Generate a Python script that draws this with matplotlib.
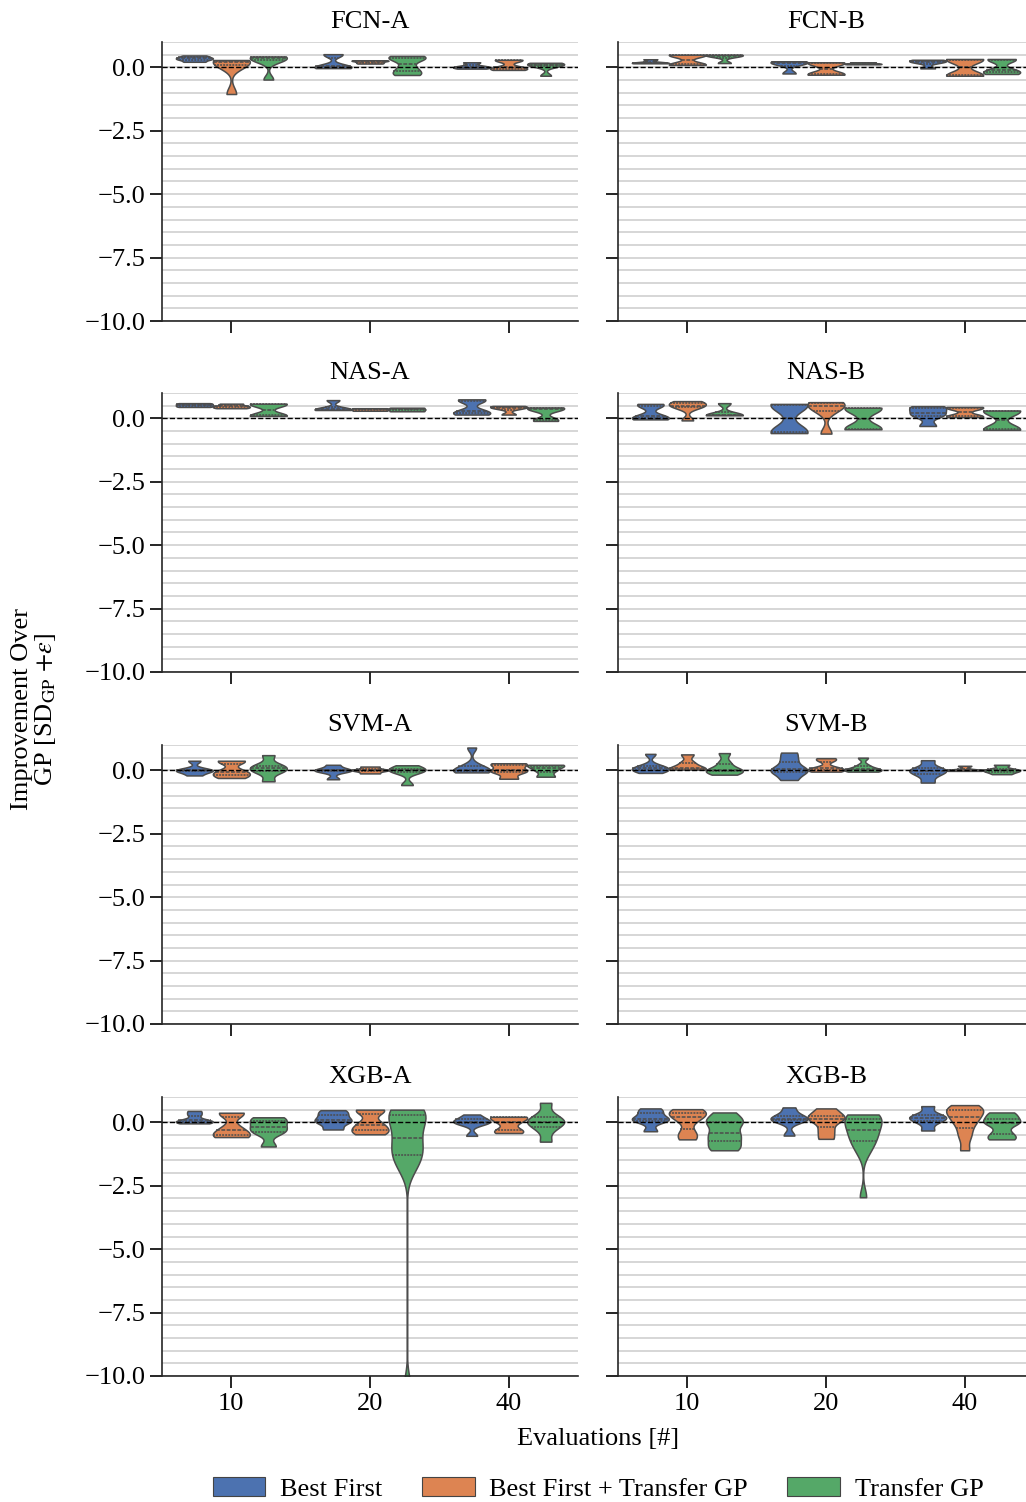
import matplotlib
matplotlib.use("Agg")
import matplotlib.pyplot as plt
import matplotlib.ticker as ticker
from matplotlib.patches import Patch
import numpy as np
import pandas as pd
import seaborn as sns

# ── raw data: per-seed improvement samples, lists ordered by evals (10, 20, 40) ──
EVALS   = ["10", "20", "40"]
METHODS = ["Best First", "Best First + Transfer GP", "Transfer GP"]
COLORS  = ["#4C72B0", "#DD8452", "#55A868"]
PANELS  = ["FCN-A", "FCN-B", "NAS-A", "NAS-B", "SVM-A", "SVM-B", "XGB-A", "XGB-B"]

FCN_A_BF  = [[0.22, 0.30, 0.35, 0.40, 0.47], [0.52, 0.50, 0.05, 0.00, -0.03, 0.02], [0.20, 0.05, 0.00, -0.05]]
FCN_A_BFT = [[0.29, 0.25, 0.20, 0.10, -1.05], [0.15, 0.20, 0.25, 0.28], [0.30, 0.28, 0.00, -0.05, -0.10]]
FCN_A_TGP = [[0.43, 0.40, 0.35, 0.30, -0.48], [0.45, 0.40, 0.30, 0.00, -0.20, -0.30], [0.18, 0.15, 0.10, 0.05, -0.33]]

FCN_B_BF  = [[0.32, 0.20, 0.17, 0.16], [0.24, 0.20, 0.15, -0.24], [0.30, 0.25, 0.20, -0.04]]
FCN_B_BFT = [[0.50, 0.48, 0.12, 0.10], [0.20, 0.15, -0.25, -0.29], [0.33, 0.30, -0.30, -0.33]]
FCN_B_TGP = [[0.50, 0.48, 0.45, 0.17], [0.20, 0.15, 0.12], [0.33, 0.30, -0.10, -0.20, -0.26]]

NAS_A_BF  = [[0.60, 0.55, 0.50, 0.45], [0.72, 0.38, 0.35, 0.33], [0.75, 0.70, 0.30, 0.20, 0.15]]
NAS_A_BFT = [[0.58, 0.50, 0.45, 0.40], [0.40, 0.35, 0.30], [0.49, 0.45, 0.40, 0.15]]
NAS_A_TGP = [[0.58, 0.55, 0.12, 0.10], [0.42, 0.35, 0.28], [0.43, 0.40, 0.35, -0.05, -0.10]]

NAS_B_BF  = [[0.57, 0.50, 0.10, 0.00, -0.04], [0.57, 0.50, -0.50, -0.58], [0.48, 0.40, 0.20, 0.10, -0.30]]
NAS_B_BFT = [[0.68, 0.60, 0.50, 0.45, -0.08], [0.64, 0.60, 0.50, 0.30, -0.60], [0.45, 0.40, 0.10, 0.05]]
NAS_B_TGP = [[0.60, 0.15, 0.13, 0.12], [0.42, 0.38, -0.40, -0.43], [0.31, 0.28, -0.42, -0.45]]

SVM_A_BF  = [[0.38, 0.02, 0.00, -0.02, -0.20], [0.22, 0.02, 0.00, -0.02, -0.35], [0.90, 0.20, 0.05, 0.00, -0.05, -0.08]]
SVM_A_BFT = [[0.38, 0.35, 0.00, -0.10, -0.20, -0.30], [0.15, 0.02, 0.00, -0.12], [0.28, 0.22, 0.00, -0.05, -0.33]]
SVM_A_TGP = [[0.60, 0.20, 0.15, 0.00, -0.05, -0.43], [0.20, 0.05, 0.00, -0.05, -0.58], [0.22, 0.18, 0.00, -0.25]]

SVM_B_BF  = [[0.65, 0.20, 0.10, 0.05, 0.00, -0.10], [0.70, 0.40, 0.10, 0.00, -0.10, -0.38], [0.40, 0.10, 0.00, -0.05, -0.20, -0.48]]
SVM_B_BFT = [[0.63, 0.30, 0.10, 0.05, 0.03], [0.48, 0.40, 0.10, 0.05, 0.00, -0.05], [0.18, 0.02, 0.00, -0.02]]
SVM_B_TGP = [[0.68, 0.30, 0.05, 0.00, -0.05, -0.17], [0.50, 0.20, 0.05, 0.02, 0.00, -0.05], [0.22, 0.05, 0.00, -0.05, -0.15]]

XGB_A_BF  = [[0.45, 0.30, 0.10, 0.05, 0.00, -0.04], [0.48, 0.30, 0.10, 0.00, -0.28], [0.31, 0.15, 0.05, 0.00, -0.05, -0.53]]
XGB_A_BFT = [[0.38, 0.35, -0.20, -0.40, -0.55, -0.58], [0.50, 0.45, 0.00, -0.20, -0.35, -0.47], [0.22, 0.20, 0.00, -0.30, -0.42]]
XGB_A_TGP = [[0.20, 0.10, -0.10, -0.30, -0.40, -0.95],
             [0.50, 0.45, 0.40, 0.25, 0.00, -0.40, -0.80, -1.00, -1.20, -1.50, -1.80, -10.50],
             [0.77, 0.30, 0.10, 0.00, -0.05, -0.30, -0.76]]

XGB_B_BF  = [[0.55, 0.40, 0.20, 0.10, 0.05, -0.35], [0.59, 0.30, 0.15, 0.10, 0.08, -0.52], [0.64, 0.30, 0.20, 0.15, 0.00, -0.32]]
XGB_B_BFT = [[0.52, 0.40, 0.30, 0.10, -0.40, -0.67], [0.55, 0.30, 0.15, 0.10, -0.30, -0.65],
             [0.68, 0.60, 0.50, 0.40, 0.30, 0.10, 0.00, -0.30, -0.60, -1.10]]
XGB_B_TGP = [[0.39, 0.05, 0.00, -0.40, -0.60, -0.90, -1.10],
             [0.31, 0.30, 0.25, 0.10, 0.00, -0.20, -0.40, -0.50, -0.70, -0.90, -1.20, -2.95],
             [0.39, 0.30, 0.10, 0.00, -0.05, -0.40, -0.60, -0.67]]

PANEL_DATA = {
    "FCN-A": [FCN_A_BF, FCN_A_BFT, FCN_A_TGP],
    "FCN-B": [FCN_B_BF, FCN_B_BFT, FCN_B_TGP],
    "NAS-A": [NAS_A_BF, NAS_A_BFT, NAS_A_TGP],
    "NAS-B": [NAS_B_BF, NAS_B_BFT, NAS_B_TGP],
    "SVM-A": [SVM_A_BF, SVM_A_BFT, SVM_A_TGP],
    "SVM-B": [SVM_B_BF, SVM_B_BFT, SVM_B_TGP],
    "XGB-A": [XGB_A_BF, XGB_A_BFT, XGB_A_TGP],
    "XGB-B": [XGB_B_BF, XGB_B_BFT, XGB_B_TGP],
}


def to_frame(series):
    rows = []
    for method, per_eval in zip(METHODS, series):
        for ev, vals in zip(EVALS, per_eval):
            rows += [(ev, method, v) for v in vals]
    return pd.DataFrame(rows, columns=["evals", "method", "value"])


def capped_bw(kde):
    # 0.6 x scott, but never wider than 0.5 units (keeps outliers from smearing)
    d = np.asarray(kde.dataset).ravel()
    s = d.std(ddof=1)
    return min(0.6 * d.size ** (-0.2), 0.5 / s)


def minus_fmt(v, _):
    return f"{v:.1f}".replace("-", "\u2212")


# ── style ─────────────────────────────────────────────────────────────────────
plt.rcParams.update({
    "font.family": ["Liberation Serif", "DejaVu Serif"],
    "mathtext.fontset": "stix",
    "font.size": 19,
    "axes.linewidth": 1.2,
    "xtick.major.size": 8.5,
    "ytick.major.size": 8.5,
    "xtick.major.width": 1.2,
    "ytick.major.width": 1.2,
    "axes.edgecolor": "#262626",
})

W, H = 1026, 1502
fig = plt.figure(figsize=(W / 100, H / 100), dpi=100)

ROW_TOP = [42, 393, 745, 1097]
COL_LEFT = [162, 618]
AX_W, AX_H = 416, 279

for i, name in enumerate(PANELS):
    r, c = divmod(i, 2)
    ax = fig.add_axes([COL_LEFT[c] / W, 1 - (ROW_TOP[r] + AX_H) / H, AX_W / W, AX_H / H])
    df = to_frame(PANEL_DATA[name])
    sns.violinplot(data=df, x="evals", y="value", hue="method", order=EVALS, hue_order=METHODS,
                   palette=COLORS, cut=0, inner="quart", density_norm="width", bw_method=capped_bw,
                   linewidth=1.1, saturation=1, legend=False, ax=ax)
    ax.axhline(0, color="black", ls="--", lw=1.0, zorder=5)
    ax.set_ylim(-10, 1.0)
    ax.set_xlim(-0.5, 2.5)
    ax.set_yticks([-10, -7.5, -5, -2.5, 0])
    ax.yaxis.set_major_formatter(ticker.FuncFormatter(minus_fmt))
    ax.yaxis.set_minor_locator(ticker.MultipleLocator(0.5))
    ax.tick_params(axis="y", which="minor", length=0)
    ax.grid(axis="y", which="both", color="#cccccc", lw=1.1, zorder=0)
    ax.set_axisbelow(True)
    ax.spines["top"].set_visible(False)
    ax.spines["right"].set_visible(False)
    ax.set_xlabel("")
    ax.set_ylabel("")
    ax.set_title(name, fontsize=19, pad=10)
    if c == 1:
        ax.tick_params(axis="y", labelleft=False)
    if r < 3:
        ax.tick_params(axis="x", labelbottom=False)

fig.text(35 / W, 1 - 709 / H, "Improvement Over\nGP [SD$_{\\mathrm{GP}}$ $+\\varepsilon$]",
         rotation=90, ha="center", va="center", multialignment="center", linespacing=1.0)
fig.text(598 / W, 1 - 1439 / H, "Evaluations [#]", ha="center", va="center")

handles = [Patch(facecolor=col, edgecolor="#444444", lw=0.8, label=m) for m, col in zip(METHODS, COLORS)]
fig.legend(handles=handles, loc="center", bbox_to_anchor=(598 / W, 1 - 1489 / H), ncol=3,
           frameon=False, handlelength=2.0, handleheight=0.7, handletextpad=0.55, columnspacing=1.5)

fig.savefig("out.png", dpi=100)
